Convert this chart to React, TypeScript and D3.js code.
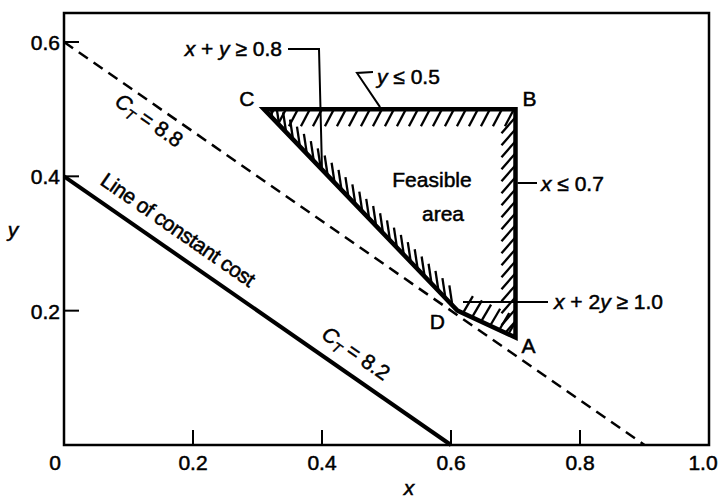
import React from 'react';
import * as d3 from 'd3';

// cost lines (x, y) end points
const lowCostX = [0, 0.6];
const lowCostY = [0.4, 0];
const highCostX = [0, 0.9];
const highCostY = [0.6, 0];

// corners of the feasible area
const cornerNames = ['C', 'B', 'A', 'D'];
const cornerX = [0.31, 0.7, 0.7, 0.61];
const cornerY = [0.5, 0.5, 0.16, 0.2];

const xTickValues = [0.2, 0.4, 0.6, 0.8];
const xLabelValues = [0, 0.2, 0.4, 0.6, 0.8, 1.0];
const xLabels = ['0', '0.2', '0.4', '0.6', '0.8', '1.0'];
const yTickValues = [0.2, 0.4, 0.6];
const yLabels = ['0.2', '0.4', '0.6'];

const FONT = '"Liberation Sans", Arial, Helvetica, sans-serif';

const x = d3.scaleLinear().domain([0, 1]).range([64, 709]);
const y = d3.scaleLinear().domain([0, 0.6]).range([445, 42]);
const frameTop = 13;

type P = [number, number];

// short hatch strokes along an edge, pixel space
function hatch(a: P, b: P, step: number, dx: number, dy: number, start = step / 2) {
  const len = Math.hypot(b[0] - a[0], b[1] - a[1]);
  const segs: [P, P][] = [];
  for (let s = start; s < len; s += step) {
    const t = s / len;
    const px = a[0] + (b[0] - a[0]) * t;
    const py = a[1] + (b[1] - a[1]) * t;
    segs.push([[px, py], [px + dx, py + dy]]);
  }
  return segs;
}

function lineLabelPos(xs: number[], ys: number[], at: number) {
  const yy = ys[0] + ((ys[1] - ys[0]) * (at - xs[0])) / (xs[1] - xs[0]);
  const ang = (Math.atan2(y(ys[1]) - y(ys[0]), x(xs[1]) - x(xs[0])) * 180) / Math.PI;
  return { px: x(at), py: y(yy), ang };
}

const CT = ({ value }: { value: string }) => (
  <>
    <tspan fontStyle="italic">C</tspan>
    <tspan fontStyle="italic" fontSize={14} dy={4}>T</tspan>
    <tspan dy={-4}>{` = ${value}`}</tspan>
  </>
);

export default function App() {
  const pts: P[] = cornerX.map((cx, i) => [x(cx), y(cornerY[i])]);
  const [C, B, A, D] = pts;
  const poly = pts.map((p) => p.join(',')).join(' ');

  const hatches = [
    ...hatch(C, B, 12, -9, 17, 10),
    ...hatch(B, A, 12, -14, 16, 8),
    ...hatch(C, D, 10, -3, -20, 12),
    ...hatch(D, A, 10, 10, -17, 6),
  ];

  const lowLine = d3.line<number>()((lowCostX.map((v, i) => [x(v), y(lowCostY[i])]) as any));
  const highLine = d3.line<number>()((highCostX.map((v, i) => [x(v), y(highCostY[i])]) as any));

  const l88 = lineLabelPos(highCostX, highCostY, 0.146);
  const lLine = lineLabelPos(lowCostX, lowCostY, 0.158);
  const l82 = lineLabelPos(lowCostX, lowCostY, 0.434);

  // point on CD where the x + y leader ends
  const cdAt = 0.4;
  const cdY = cornerY[0] + ((cornerY[3] - cornerY[0]) * (cdAt - cornerX[0])) / (cornerX[3] - cornerX[0]);

  return (
    <svg width={719} height={500} style={{ position: 'absolute', left: 0, top: 0 }} fontFamily={FONT} fontSize={21}>
      <rect width={719} height={500} fill="#fff" />
      {/* frame */}
      <rect x={x(0)} y={frameTop} width={x(1) - x(0)} height={y(0) - frameTop} fill="none" stroke="#000" strokeWidth={2.5} />
      {/* ticks */}
      {xTickValues.map((v) => (
        <line key={'xt' + v} x1={x(v)} x2={x(v)} y1={y(0)} y2={y(0) - 15} stroke="#000" strokeWidth={2} />
      ))}
      {yTickValues.map((v) => (
        <line key={'yt' + v} x1={x(0)} x2={x(0) + 15} y1={y(v)} y2={y(v)} stroke="#000" strokeWidth={2} />
      ))}
      <g stroke="#000" strokeWidth={0.5}>
        {xLabelValues.map((v, i) => (
          <text key={'xl' + v} x={i === 0 ? x(v) - 9 : i === xLabels.length - 1 ? x(v) - 6 : x(v)} y={470} textAnchor="middle">{xLabels[i]}</text>
        ))}
        {yTickValues.map((v, i) => (
          <text key={'yl' + v} x={60} y={y(v) + 8} textAnchor="end">{yLabels[i]}</text>
        ))}
        <text x={409} y={495} textAnchor="middle" fontStyle="italic">x</text>
        <text x={13} y={237} textAnchor="middle" fontStyle="italic">y</text>
      </g>

      {/* cost lines */}
      <path d={highLine!} stroke="#000" strokeWidth={2.5} strokeDasharray="11 7" fill="none" />
      <path d={lowLine!} stroke="#000" strokeWidth={4} fill="none" />

      {/* feasible area */}
      <defs>
        <clipPath id="feas">
          <polygon points={poly} />
        </clipPath>
      </defs>
      <g clipPath="url(#feas)">
        {hatches.map((s, i) => (
          <line key={'h' + i} x1={s[0][0]} y1={s[0][1]} x2={s[1][0]} y2={s[1][1]} stroke="#000" strokeWidth={2.3} />
        ))}
      </g>
      <polygon points={poly} fill="none" stroke="#000" strokeWidth={4.5} strokeLinejoin="miter" />

      <g stroke="#000" strokeWidth={0.5}>
        {/* corner letters */}
        <text x={C[0] - 17} y={C[1] - 3} textAnchor="middle">{cornerNames[0]}</text>
        <text x={B[0] + 14} y={B[1] - 3} textAnchor="middle">{cornerNames[1]}</text>
        <text x={A[0] + 13} y={A[1] + 15} textAnchor="middle">{cornerNames[2]}</text>
        <text x={D[0] - 20} y={D[1] + 18} textAnchor="middle">{cornerNames[3]}</text>

        {/* constraint labels */}
        <text x={282} y={56} textAnchor="end">
          <tspan fontStyle="italic">x</tspan> + <tspan fontStyle="italic">y</tspan> ≥ 0.8
        </text>
        <text x={377} y={84}>
          <tspan fontStyle="italic">y</tspan> ≤ 0.5
        </text>
        <text x={541} y={191}>
          <tspan fontStyle="italic">x</tspan> ≤ 0.7
        </text>
        <text x={554} y={309}>
          <tspan fontStyle="italic">x</tspan> + 2<tspan fontStyle="italic">y</tspan> ≥ 1.0
        </text>

        <text x={432} y={187} textAnchor="middle">Feasible</text>
        <text x={443} y={221} textAnchor="middle">area</text>

        {/* line labels */}
        <text transform={`translate(${l88.px},${l88.py}) rotate(${l88.ang})`} y={23} textAnchor="middle">
          <CT value="8.8" />
        </text>
        <text transform={`translate(${lLine.px},${lLine.py}) rotate(${lLine.ang})`} y={-14} textAnchor="middle" letterSpacing={-0.5}>
          Line of constant cost
        </text>
        <text transform={`translate(${l82.px},${l82.py}) rotate(${l82.ang})`} y={-14} textAnchor="middle">
          <CT value="8.2" />
        </text>
      </g>

      {/* leaders */}
      <path d={`M288,49 L${x(cdAt) - 3},49 L${x(cdAt)},${y(cdY)}`} fill="none" stroke="#000" strokeWidth={2} />
      <path d={`M373,72 L357,73 L${x(0.49)},${y(0.5) - 2}`} fill="none" stroke="#000" strokeWidth={2} />
      <line x1={x(0.7) + 2} x2={537} y1={183} y2={183} stroke="#000" strokeWidth={2} />
      <line x1={463} x2={548} y1={302} y2={302} stroke="#000" strokeWidth={2} />
    </svg>
  );
}
